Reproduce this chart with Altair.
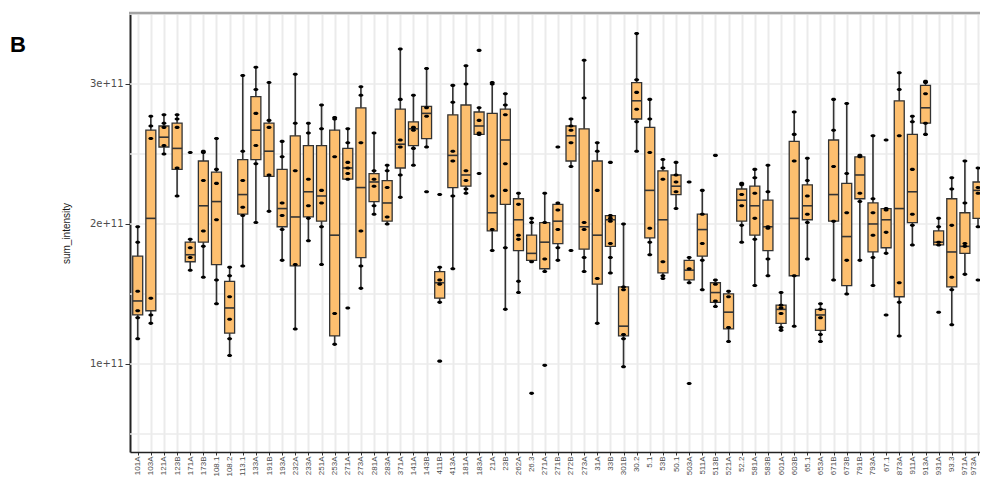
import altair as alt
import pandas as pd

labels = ["101A", "103A", "121A", "123B", "171A", "173B", "108.1", "108.2", "113.1", "133A",
          "191B", "193A", "232A", "233A", "251A", "253A", "271A", "273A", "281A", "283A",
          "371A", "141A", "143B", "411B", "413A", "181A", "183A", "21A", "23B", "262A",
          "26.3", "271A", "271B", "272B", "273A", "31A", "33B", "301B", "30.2", "5.1",
          "53B", "50.1", "503A", "511A", "513B", "521A", "52.2", "581A", "583B", "601A",
          "603B", "65.1", "653A", "671B", "673B", "791B", "793A", "67.1", "873A", "911A",
          "913A", "931A", "93.3", "971A", "973A", "975A"]

# values in units of 1e11
lower = [1.18, 1.29, 2.50, 2.20, 1.67, 1.62, 1.43, 1.06, 1.70, 2.01,
         2.09, 1.74, 1.25, 1.88, 1.71, 1.14, 2.32, 1.54, 2.07, 2.00,
         2.19, 2.42, 2.55, 1.44, 1.68, 2.22, 2.64, 1.81, 1.39, 1.51,
         1.73, 1.66, 1.74, 2.41, 1.66, 1.29, 1.65, 0.98, 2.52, 1.78,
         1.61, 2.11, 1.58, 1.53, 1.41, 1.16, 1.87, 1.56, 1.63, 1.24,
         1.27, 1.75, 1.16, 1.60, 1.50, 1.74, 1.56, 1.79, 1.20, 1.85,
         2.64, 1.85, 1.28, 1.64, 1.98, 1.70]
q1 = [1.35, 1.38, 2.55, 2.39, 1.73, 1.87, 1.71, 1.22, 2.07, 2.46,
      2.34, 1.98, 1.70, 2.05, 2.02, 1.20, 2.32, 1.76, 2.16, 2.02,
      2.40, 2.56, 2.61, 1.47, 2.26, 2.27, 2.64, 1.95, 2.14, 1.81,
      1.74, 1.68, 1.86, 2.45, 1.82, 1.57, 1.84, 1.20, 2.75, 1.90,
      1.65, 2.21, 1.60, 1.77, 1.44, 1.25, 2.02, 1.92, 1.81, 1.29,
      1.63, 2.03, 1.24, 2.02, 1.56, 2.18, 1.80, 1.83, 1.48, 2.01,
      2.72, 1.85, 1.55, 1.79, 2.04, 1.89]
median = [1.45, 2.04, 2.62, 2.54, 1.78, 2.13, 2.16, 1.40, 2.21, 2.67,
          2.52, 2.11, 2.05, 2.23, 2.20, 1.92, 2.40, 2.26, 2.30, 2.15,
          2.57, 2.68, 2.79, 1.58, 2.49, 2.35, 2.70, 2.08, 2.60, 2.03,
          1.79, 1.87, 2.02, 2.63, 1.98, 1.92, 2.03, 1.27, 2.88, 2.24,
          2.03, 2.27, 1.67, 1.96, 1.51, 1.37, 2.17, 2.13, 1.98, 1.39,
          2.04, 2.13, 1.35, 2.21, 1.91, 2.35, 2.00, 2.03, 2.11, 2.23,
          2.83, 1.87, 1.80, 1.84, 2.24, 2.10]
q3 = [1.77, 2.67, 2.70, 2.72, 1.87, 2.45, 2.37, 1.59, 2.46, 2.91,
      2.72, 2.39, 2.63, 2.56, 2.56, 2.67, 2.54, 2.83, 2.36, 2.31,
      2.82, 2.73, 2.84, 1.66, 2.78, 2.85, 2.80, 2.79, 2.82, 2.18,
      1.92, 2.01, 2.14, 2.70, 2.68, 2.45, 2.06, 1.55, 3.01, 2.69,
      2.38, 2.35, 1.74, 2.07, 1.58, 1.50, 2.25, 2.27, 2.17, 1.42,
      2.59, 2.28, 1.39, 2.60, 2.29, 2.48, 2.15, 2.11, 2.88, 2.64,
      2.99, 1.95, 2.18, 2.08, 2.30, 2.36]
upper = [1.98, 2.77, 2.78, 2.78, 1.89, 2.52, 2.61, 1.69, 3.06, 3.12,
         3.01, 2.59, 3.07, 2.72, 2.85, 2.76, 2.68, 2.98, 2.65, 2.42,
         3.25, 2.92, 3.11, 1.69, 2.99, 3.13, 2.83, 3.01, 2.93, 2.22,
         2.04, 2.22, 2.15, 2.75, 3.17, 2.58, 2.06, 2.00, 3.36, 2.89,
         2.46, 2.44, 1.76, 2.24, 1.60, 1.52, 2.29, 2.39, 2.42, 1.51,
         2.80, 2.47, 1.43, 2.89, 2.86, 2.49, 2.63, 2.11, 3.08, 2.77,
         3.02, 2.04, 2.33, 2.45, 2.40, 2.52]
points = [
    [1.98, 1.87, 1.52, 1.38, 1.33, 1.18],
    [2.77, 2.70, 2.61, 1.47, 1.35, 1.29],
    [2.78, 2.72, 2.69, 2.56, 2.50],
    [2.78, 2.75, 2.69, 2.40, 2.20],
    [2.51, 1.89, 1.83, 1.76, 1.67],
    [2.52, 2.51, 2.31, 1.95, 1.84, 1.62],
    [2.61, 2.39, 2.29, 2.03, 1.60, 1.43],
    [1.69, 1.63, 1.48, 1.32, 1.18, 1.06],
    [3.06, 2.52, 2.31, 2.12, 2.06, 1.70],
    [3.12, 2.96, 2.79, 2.56, 2.43, 2.01],
    [3.01, 2.74, 2.69, 2.35, 2.09],
    [2.59, 2.48, 2.15, 2.06, 1.96, 1.74],
    [3.07, 2.72, 2.38, 1.71, 1.25],
    [2.72, 2.65, 2.32, 2.13, 2.04, 1.88],
    [2.85, 2.68, 2.24, 2.15, 1.98, 1.71],
    [2.76, 2.75, 2.48, 1.36, 1.14],
    [2.68, 2.58, 2.44, 2.40, 2.36, 2.32, 1.40],
    [2.98, 2.92, 2.58, 1.95, 1.70, 1.54],
    [2.65, 2.38, 2.32, 2.27, 2.13, 2.07],
    [2.42, 2.38, 2.26, 2.05, 2.00],
    [3.25, 2.89, 2.60, 2.55, 2.35, 2.19],
    [2.92, 2.69, 2.67, 2.54, 2.42],
    [3.11, 2.83, 2.77, 2.55, 2.23],
    [2.21, 1.69, 1.60, 1.57, 1.44, 1.02],
    [2.99, 2.87, 2.52, 2.45, 2.20, 1.68],
    [3.13, 3.00, 2.38, 2.31, 2.25, 2.22],
    [3.24, 2.83, 2.74, 2.65, 2.64, 2.36],
    [3.01, 3.00, 2.20, 1.96, 1.81],
    [2.93, 2.85, 2.78, 2.43, 2.24, 1.83, 1.39],
    [2.22, 2.14, 1.92, 1.89, 1.59, 1.51],
    [2.04, 2.01, 1.73, 0.79],
    [2.22, 2.01, 1.75, 1.66, 0.99],
    [2.55, 2.15, 2.10, 1.96, 1.83, 1.74],
    [2.75, 2.70, 2.67, 2.58, 2.41, 1.81],
    [3.17, 2.90, 2.01, 1.96, 1.76, 1.66],
    [2.58, 2.52, 2.24, 1.61, 1.29],
    [2.44, 2.06, 2.04, 2.02, 1.86, 1.76, 1.65],
    [2.00, 1.55, 1.53, 1.21, 1.18, 0.98],
    [3.36, 3.03, 2.94, 2.82, 2.73, 2.52],
    [2.89, 2.75, 2.51, 1.97, 1.87, 1.78],
    [2.46, 2.40, 2.32, 1.73, 1.63, 1.61],
    [2.44, 2.35, 2.30, 2.23, 2.11],
    [2.30, 1.76, 1.68, 1.58, 0.86],
    [2.24, 2.07, 1.86, 1.74, 1.53],
    [2.49, 1.60, 1.57, 1.45, 1.41],
    [1.52, 1.48, 1.26, 1.16],
    [2.29, 2.28, 2.21, 2.13, 1.99, 1.87],
    [2.39, 2.33, 2.22, 2.04, 1.89, 1.56],
    [2.42, 2.23, 1.98, 1.97, 1.75, 1.63],
    [1.51, 1.42, 1.40, 1.36, 1.26, 1.24],
    [2.80, 2.64, 2.45, 1.63, 1.27],
    [2.47, 2.31, 2.20, 2.07, 2.01, 1.75],
    [1.43, 1.39, 1.33, 1.21, 1.16],
    [2.89, 2.67, 2.41, 2.02, 1.60],
    [2.86, 2.36, 2.08, 1.74, 1.50],
    [2.49, 2.48, 2.22, 2.16, 1.74],
    [2.63, 2.18, 2.08, 1.92, 1.76, 1.56],
    [2.60, 2.11, 2.10, 1.94, 1.79, 1.35],
    [3.08, 2.96, 2.63, 1.58, 1.44, 1.20],
    [2.77, 2.73, 2.39, 2.07, 1.99, 1.85],
    [3.02, 3.01, 2.93, 2.72, 2.64],
    [2.04, 1.98, 1.87, 1.85, 1.37],
    [2.33, 2.25, 1.99, 1.62, 1.53, 1.28],
    [2.45, 2.15, 1.86, 1.84, 1.64],
    [2.40, 2.26, 2.22, 1.98, 1.60],
    [2.52, 2.30, 2.00, 1.70],
]
y_grid = [0.5, 1.0, 1.5, 2.0, 2.5, 3.0, 3.5]
y_ticks = [1.0, 2.0, 3.0]
panel_tag = ["B"]

E = 1e11
n = len(labels)
stats = pd.DataFrame({
    "idx": list(range(1, n + 1)),
    "label": labels,
    "lower": [v * E for v in lower],
    "q1": [v * E for v in q1],
    "median": [v * E for v in median],
    "q3": [v * E for v in q3],
    "upper": [v * E for v in upper],
})
pts = pd.DataFrame([{"idx": i + 1, "value": v * E} for i, vs in enumerate(points) for v in vs])
grid = pd.DataFrame({"gv": [v * E for v in y_grid]})
tag = pd.DataFrame({"t": panel_tag})
one = pd.DataFrame({"k": [0]})

W, H = 850, 438
STEP = 13.13
X0 = 0.413
HALF = 0.38
xscale = alt.Scale(domain=[X0, X0 + W / STEP], nice=False, zero=False, padding=0)
yscale = alt.Scale(domain=[0.371 * E, 3.5 * E], nice=False, zero=False, padding=0)

label_js = "[" + ",".join("'%s'" % l for l in labels) + "]"
xaxis = alt.Axis(values=list(range(1, n + 1)), labelExpr=label_js + "[datum.value - 1]",
                 labelAngle=270, grid=True, gridColor="#ebebeb", gridWidth=2,
                 domainColor="#222222", domainWidth=1.6, tickColor="#333333", tickSize=3,
                 labelFontSize=8, labelFont="Liberation Sans", labelColor="#4d4d4d",
                 labelPadding=1, labelOverlap=False, labelBound=False, labelFlush=False,
                 labelOffset={"condition": {"test": "datum.value >= 65", "value": -5},
                              "value": 0},
                 title=None)
yaxis = alt.Axis(values=[v * E for v in y_ticks],
                 labelExpr="format(datum.value / 1e11, 'd') + 'e+11'",
                 grid=False, domainColor="#222222", domainWidth=2, tickColor="#333333",
                 tickSize=5, labelFontSize=10, labelFont="DejaVu Sans", labelColor="#4d4d4d",
                 labelPadding=2, title="sum_intensity", titleFont="Liberation Sans",
                 titleFontSize=10, titleFontWeight="normal", titleColor="#1a1a1a",
                 titlePadding=18)

base = alt.Chart(stats).transform_calculate(
    xl="datum.idx - %f" % HALF, xr="datum.idx + %f" % HALF
)

gridlines = alt.Chart(grid).mark_rule(color="#ebebeb", strokeWidth=1.6).encode(
    y=alt.Y("gv:Q", scale=yscale, axis=yaxis)
)

whisker = base.mark_rule(color="#333333", strokeWidth=1.6).encode(
    x=alt.X("idx:Q", scale=xscale, axis=xaxis),
    y=alt.Y("lower:Q", scale=yscale, axis=yaxis),
    y2="upper:Q",
)

box = base.mark_bar(fill="#FDBF6F", stroke="#333333", strokeWidth=1.3).encode(
    x=alt.X("xl:Q", scale=xscale, axis=xaxis),
    x2="xr:Q",
    y=alt.Y("q1:Q", scale=yscale, axis=yaxis),
    y2="q3:Q",
)

med = base.mark_rule(color="#333333", strokeWidth=1.6).encode(
    x=alt.X("xl:Q", scale=xscale, axis=xaxis),
    x2="xr:Q",
    y=alt.Y("median:Q", scale=yscale, axis=yaxis),
)

ellipse = "M-1,0 A1,0.6 0 1,0 1,0 A1,0.6 0 1,0 -1,0 Z"
dots = alt.Chart(pts).mark_point(shape=ellipse, filled=True, color="#000000",
                                 opacity=1, size=26).encode(
    x=alt.X("idx:Q", scale=xscale, axis=xaxis),
    y=alt.Y("value:Q", scale=yscale, axis=yaxis),
)

top_border = alt.Chart(one).mark_rule(color="#a3a3a3", strokeWidth=2.6).encode(
    x=alt.value(-1), x2=alt.value(W + 5), y=alt.value(-1)
)

tag_text = alt.Chart(tag).mark_text(fontSize=22, fontWeight="bold", font="Liberation Sans",
                                    align="left", baseline="middle", color="#000000").encode(
    text="t:N", x=alt.value(-120), y=alt.value(31)
)

chart = alt.layer(gridlines, whisker, box, med, dots, top_border, tag_text).properties(
    width=W, height=H,
    autosize=alt.AutoSizeParams(type="none"),
    padding={"left": 122, "top": 6, "right": 0, "bottom": 27},
    background="#ffffff",
).configure_view(stroke=None)

chart.save("out.html", embed_options={"renderer": "svg", "actions": False})
